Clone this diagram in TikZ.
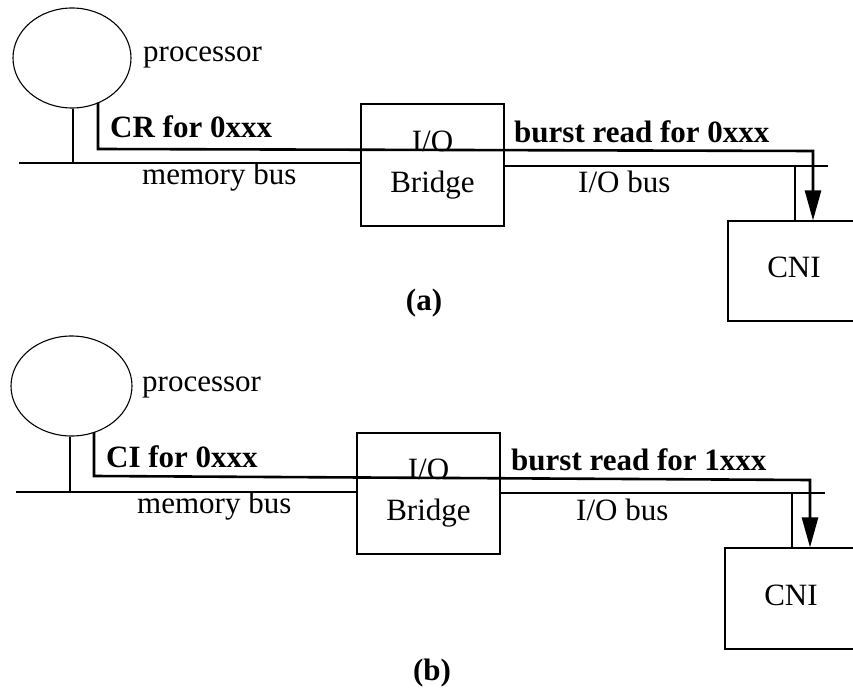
\documentclass[tikz,border=0pt]{standalone}
\usepackage{fontspec}
\setmainfont{Liberation Serif}
\usetikzlibrary{arrows.meta,shapes.geometric}
\begin{document}
\begin{tikzpicture}[x=1pt,y=-1pt,
  thin line/.style={line width=1.1pt},
  flow/.style={line width=2.6pt,line join=miter,-{Triangle[length=30pt,width=16pt]}},
  lbl/.style={inner sep=0pt,font=\fontsize{31}{36}\selectfont},
  boldlbl/.style={lbl,font=\fontsize{31}{36}\selectfont\bfseries},
  cpu/.style={ellipse,draw,thin line,inner sep=0pt},
  unit/.style={rectangle,draw,thin line,inner sep=0pt}]
\useasboundingbox (0,0) rectangle (853,692);
\clip (0,0) rectangle (853,692);

% ---------- panel (a) ----------
\node[cpu,minimum width=118pt,minimum height=100pt] (procA) at (72,58) {};
\node[unit,minimum width=143pt,minimum height=122pt] (bridgeA) at (432.5,165) {};
\node[unit,minimum width=134pt,minimum height=100pt] (cniA) at (795,271) {};
\coordinate (memA0) at (19,163);
\coordinate (iobA1) at (828,166);
\coordinate (tapA) at (98,103);

\draw[thin line] (memA0) -- (memA0 -| bridgeA.west);
\draw[thin line] (bridgeA.east |- iobA1) -- (iobA1);
\draw[thin line] (procA.south -| 73,0) -- (73,163);
\draw[thin line] (795,166) -- (795,0 |- cniA.north);
\draw[flow] (tapA) -- (98,149) -- (813,151) -- (813,0 |- cniA.north);

\node[lbl,anchor=base west] (procAt) at (143,62) {processor};
\node[boldlbl,anchor=base west] (crA) at (110,138) {CR for 0xxx};
\node[lbl,anchor=base west] (memAt) at (142,185) {memory bus};
\node[boldlbl,anchor=base west] (burstA) at (514,143) {burst read for 0xxx};
\node[lbl,anchor=base west] (iobAt) at (578,193) {I/O bus};
\node[lbl,anchor=base] (ioA) at (432.5,152) {I/O};
\node[lbl,anchor=base] (brA) at (432.5,193) {Bridge};
\node[lbl,anchor=base] (cniAt) at (794,278) {CNI};
\node[boldlbl,anchor=base] (capA) at (424,310) {(a)};

% ---------- panel (b) ----------
\node[cpu,minimum width=121pt,minimum height=100pt] (procB) at (71.5,386) {};
\node[unit,minimum width=143pt,minimum height=121pt] (bridgeB) at (428.5,493.5) {};
\node[unit,minimum width=134pt,minimum height=101pt] (cniB) at (792,598.5) {};
\coordinate (memB0) at (16,492);
\coordinate (iobB1) at (825,493);
\coordinate (tapB) at (94,432);

\draw[thin line] (memB0) -- (memB0 -| bridgeB.west);
\draw[thin line] (bridgeB.east |- iobB1) -- (iobB1);
\draw[thin line] (procB.south -| 70,0) -- (70,492);
\draw[thin line] (792,493) -- (792,0 |- cniB.north);
\draw[flow] (tapB) -- (94,476) -- (810,480) -- (810,0 |- cniB.north);

\node[lbl,anchor=base west] (procBt) at (142,391) {processor};
\node[boldlbl,anchor=base west] (ciB) at (106,467) {CI for 0xxx};
\node[lbl,anchor=base west] (memBt) at (137,513) {memory bus};
\node[boldlbl,anchor=base west] (burstB) at (511,470) {burst read for 1xxx};
\node[lbl,anchor=base west] (iobBt) at (576,520) {I/O bus};
\node[lbl,anchor=base] (ioB) at (428.5,479) {I/O};
\node[lbl,anchor=base] (brB) at (428.5,520) {Bridge};
\node[lbl,anchor=base] (cniBt) at (791,605) {CNI};
\node[boldlbl,anchor=base] (capB) at (432,680) {(b)};
\end{tikzpicture}
\end{document}
